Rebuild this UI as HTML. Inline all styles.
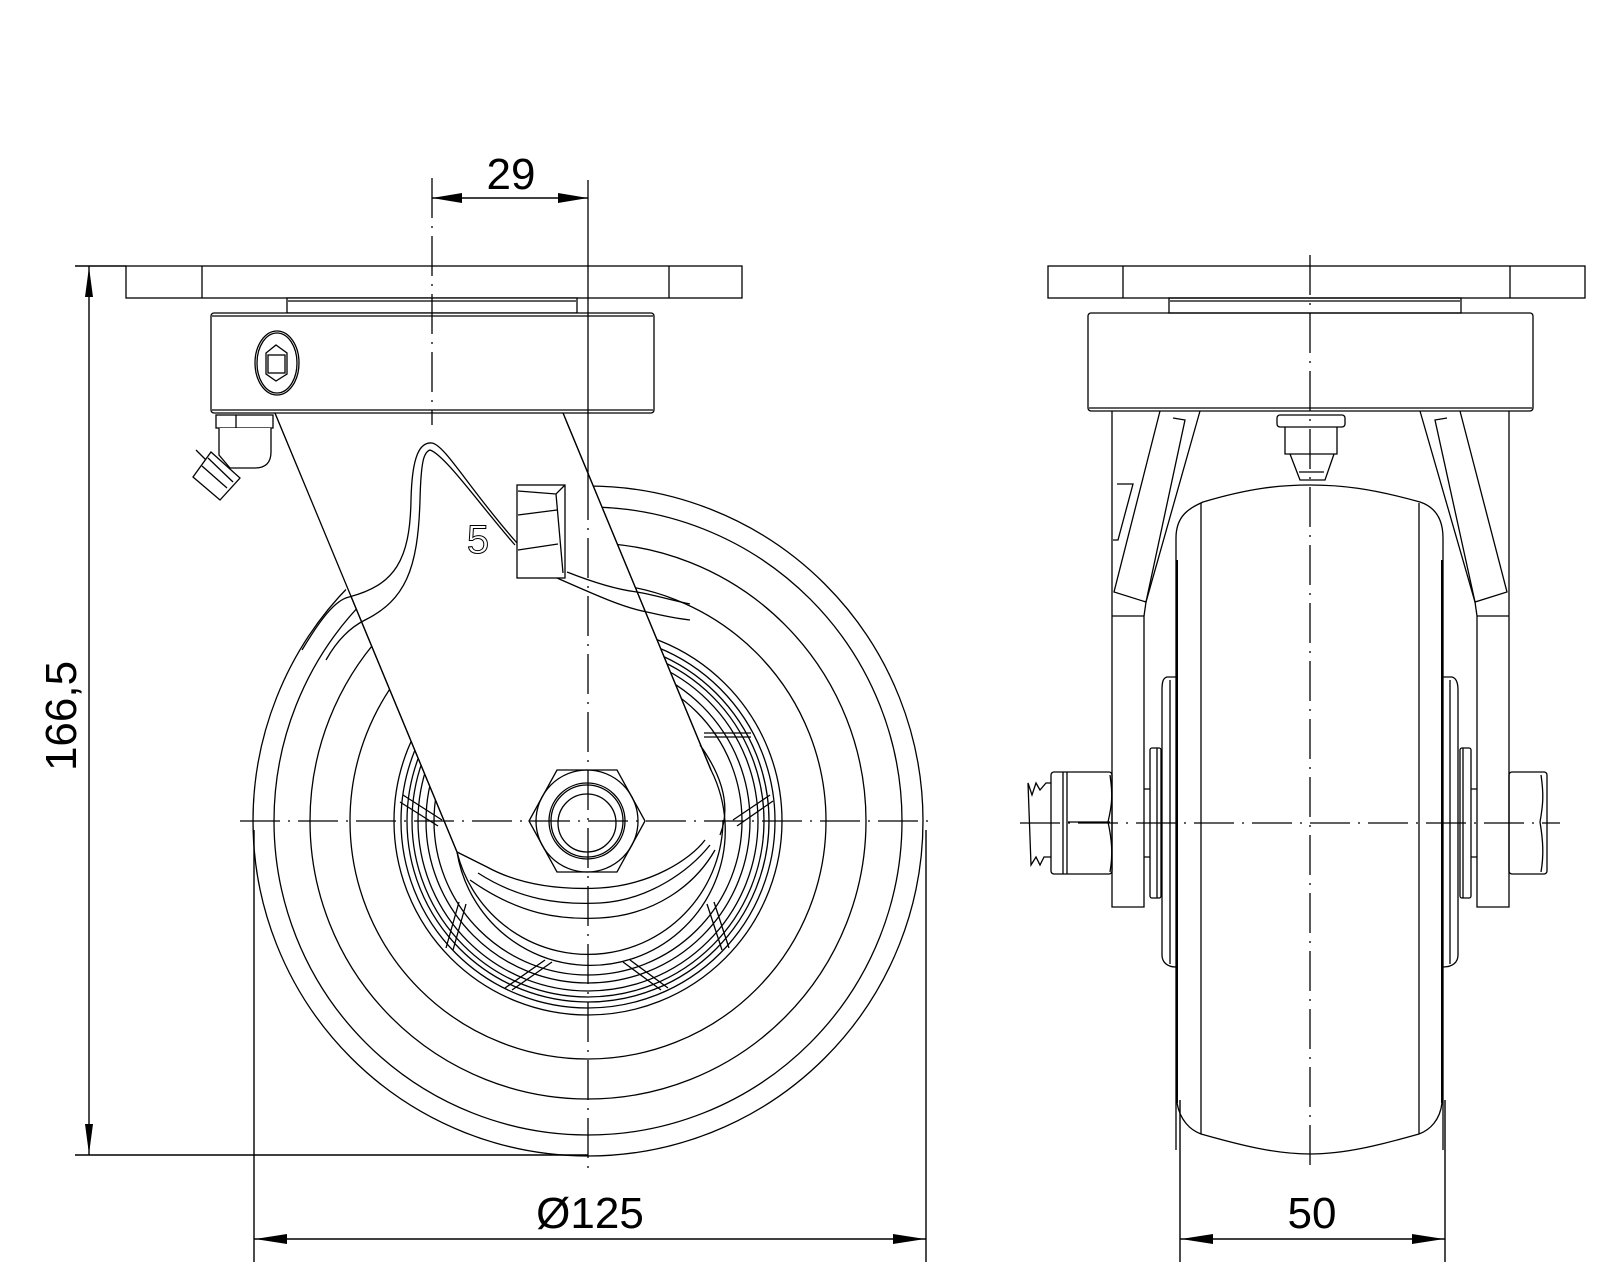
<!DOCTYPE html>
<html><head><meta charset="utf-8"><style>
html,body{margin:0;padding:0;background:#fff;}
svg{display:block;}
text{font-family:"Liberation Sans",sans-serif;fill:#000;}
</style></head><body>
<svg width="1600" height="1280" viewBox="0 0 1600 1280" xmlns="http://www.w3.org/2000/svg">
<g fill="none" stroke="#000" stroke-width="1.3">
<circle cx="588" cy="821" r="335"/>
<circle cx="588" cy="821" r="314"/>
<circle cx="588" cy="821" r="278"/>
<circle cx="588" cy="821" r="238"/>
<circle cx="588" cy="821" r="194"/>
<circle cx="588" cy="821" r="187"/>
<circle cx="588" cy="821" r="181"/>
<circle cx="588" cy="821" r="176"/>
<circle cx="588" cy="821" r="170"/>
<circle cx="588" cy="821" r="162"/>
<circle cx="588" cy="821" r="154"/>
<path d="M403,795 L442,820 M400,802 L438,826 M733,820 L770,795 M737,826 L773,801 M466,904 L453,950 M459,902 L446,948 M707,904 L722,950 M714,902 L729,948 M545,960 L505,988 M552,962 L512,990 M630,960 L668,988 M623,962 L661,990"/>
<path d="M704,733 L751,733 M704,737 L751,737"/>
<path fill="#fff" d="M275,413 L457,852 A135,135 0 1 0 711,770 L563,413 Z"/>
<path d="M723,820 A135,135 0 0 1 457,852"/>
<path d="M457,852 L487,867 C520,885 560,890 600,888 C650,885 690,860 705,840"/>
<path d="M478,873 C520,900 560,905 600,903 C650,900 690,870 710,845"/>
<path d="M470,880 C520,915 560,920 600,918 C655,915 695,885 715,850"/>
<path d="M700,745 C725,780 730,810 720,835"/>
<path fill="#fff" d="M349,597 C395,585 410,560 411,500 C412,455 420,442 432,443 C445,445 470,490 517,540 L517,578 C540,578 565,575 567,572 L620,594 L563,413 L275,413 Z" stroke="none"/>
<path d="M302,650 C320,620 335,600 349,597 C395,585 410,560 411,500 C412,455 420,442 432,443 C445,445 470,490 517,543"/>
<path d="M326,660 C340,635 355,625 365,620 C405,600 418,570 420,500 C421,460 424,452 430,450 C445,455 480,505 515,545"/>
<path d="M275,413 L457,852 M563,413 L711,770"/>
<path d="M567,572 C600,585 620,590 637,592 C655,595 670,600 690,604"/>
<path d="M557,578 C600,597 625,608 647,612 C660,615 672,618 690,620"/>
<rect x="517" y="485" width="48" height="93"/>
<path d="M518,491 L556,494 L565,485 M556,494 L563,573 M518,515 L557,510 M518,550 L558,544"/>
<text x="478" y="553" font-size="40" stroke="#000" stroke-width="1" text-anchor="middle" style="fill:none">5</text>
<polygon fill="#fff" points="529,821 557,770 617,770 645,821 617,872 557,872"/>
<circle cx="587" cy="821" r="51"/>
<circle cx="587" cy="821" r="38"/>
<circle cx="587" cy="821" r="36"/>
<circle cx="587" cy="823" r="29"/>
<rect x="126" y="266" width="616" height="32" fill="#fff"/>
<path d="M202,266 L202,298 M669,266 L669,298"/>
<rect x="287" y="298" width="290" height="15" fill="#fff"/>
<line x1="288" y1="301" x2="576" y2="301"/>
<rect x="211" y="313" width="443" height="100" rx="3" fill="#fff"/>
<line x1="212" y1="316" x2="653" y2="316"/>
<line x1="212" y1="410" x2="653" y2="410"/>
<ellipse cx="277" cy="363" rx="22" ry="32"/>
<ellipse cx="277" cy="363" rx="20" ry="30"/>
<polygon points="276,345 287,353 287,374 276,381 266,374 266,353"/>
<rect x="268" y="355" width="17" height="18"/>
<rect x="216" y="415" width="57" height="13" fill="#fff"/>
<line x1="236" y1="415" x2="236" y2="428"/>
<path d="M219,428 L219,455 L230,468 L255,468 C266,468 271,462 271,452 L271,428" fill="#fff"/>
<polygon points="193,477 211,452 240,478 220,500" fill="#fff"/>
<path d="M202,466 L227,488 M208,458 L233,482 M196,450 L206,460"/>
<path d="M588,180 L588,480"/>
<path d="M588,480 L588,1170" stroke-dasharray="40,8,2,8"/>
<path d="M432,178 L432,425" stroke-dasharray="40,8,2,8"/>
<path d="M240,821 L935,821" stroke-dasharray="40,8,2,8"/>
<g stroke-width="1.4">
<line x1="432" y1="198" x2="588" y2="198"/>
<line x1="75" y1="266" x2="126" y2="266"/>
<line x1="75" y1="1155" x2="588" y2="1155"/>
<line x1="89" y1="266" x2="89" y2="1155"/>
<line x1="254" y1="830" x2="254" y2="1262"/>
<line x1="926" y1="830" x2="926" y2="1262"/>
<line x1="254" y1="1239" x2="926" y2="1239"/>
</g>
</g>
<g fill="#000">
<polygon points="432,198 462,193 462,203"/>
<polygon points="588,198 558,193 558,203"/>
<polygon points="89,267 85,297 93,297"/>
<polygon points="89,1154 85,1124 93,1124"/>
<polygon points="255,1239 287,1234 287,1244"/>
<polygon points="925,1239 893,1234 893,1244"/>
<polygon points="1181,1239 1213,1234 1213,1244"/>
<polygon points="1444,1239 1412,1234 1412,1244"/>
</g>
<text x="511" y="189" font-size="44" text-anchor="middle">29</text>
<text x="590" y="1228" font-size="44" text-anchor="middle">Ø125</text>
<text x="1312" y="1228" font-size="44" text-anchor="middle">50</text>
<text transform="translate(76,716) rotate(-90)" font-size="44" text-anchor="middle">166,5</text>
<g fill="none" stroke="#000" stroke-width="1.3">
<rect x="1048" y="266" width="537" height="32"/>
<path d="M1123,266 L1123,298 M1510,266 L1510,298"/>
<rect x="1169" y="298" width="292" height="15"/>
<line x1="1170" y1="301" x2="1460" y2="301"/>
<rect x="1088" y="313" width="445" height="98" rx="3"/>
<line x1="1089" y1="408" x2="1532" y2="408"/>
<path d="M1112,411 L1112,907 L1144,907 L1144,616 L1112,616"/>
<path d="M1477,616 L1477,907 L1509,907 L1509,411"/>
<path d="M1477,616 L1509,616"/>
<path d="M1160,411 L1114,592 L1146,602 L1200,411"/>
<path d="M1173,418 L1185,420 L1146,602"/>
<path d="M1146,602 L1144,616"/>
<path d="M1460,411 L1507,592 L1475,602 L1420,411"/>
<path d="M1447,418 L1435,420 L1475,602"/>
<path d="M1475,602 L1477,616"/>
<path d="M1117,484 L1133,484 L1118,540 L1113,540"/>
<rect x="1277" y="415" width="68" height="12" rx="3"/>
<path d="M1285,427 L1285,454 L1337,454 L1337,427"/>
<path d="M1290,454 L1300,480 L1325,480 L1334,454 M1299,472 L1324,472"/>
<path d="M1176,1150 L1176,538 C1176,515 1190,508 1203,502 C1250,488 1280,485 1310,485 C1340,485 1370,488 1420,502 C1432,506 1443,515 1443,538 L1443,1150"/>
<path d="M1177,1103 C1180,1120 1190,1130 1201,1134 C1240,1145 1275,1154 1310,1154 C1345,1154 1380,1145 1419,1134 C1430,1130 1440,1120 1442,1103"/>
<line x1="1201" y1="503" x2="1201" y2="1134"/>
<line x1="1419" y1="503" x2="1419" y2="1134"/>
<line x1="1177" y1="560" x2="1177" y2="1103" stroke-width="2"/>
<line x1="1442" y1="560" x2="1442" y2="1103" stroke-width="2"/>
<path d="M1176,677 L1167,677 C1163,678 1162,682 1162,690 L1162,955 C1162,962 1167,967 1176,967"/>
<path d="M1170,680 L1170,964"/>
<path d="M1443,677 L1452,677 C1456,678 1458,682 1458,690 L1458,955 C1458,962 1453,967 1443,967"/>
<path d="M1450,680 L1450,964"/>
<rect x="1150" y="748" width="11" height="150" rx="2"/>
<line x1="1157" y1="748" x2="1157" y2="898"/>
<rect x="1460" y="748" width="11" height="150" rx="2"/>
<line x1="1463" y1="748" x2="1463" y2="898"/>
<path d="M1144,789 L1150,789 M1144,857 L1150,857 M1471,789 L1477,789 M1471,857 L1477,857"/>
<rect x="1051" y="772" width="61" height="102" rx="3"/>
<path d="M1063,772 L1063,874 M1067,772 L1067,874 M1068,822 L1110,822"/>
<path d="M1110,775 C1113,795 1112,805 1108,822 C1112,840 1113,855 1110,872"/>
<path d="M1051,783 L1046,783 L1040,790 L1036,783 L1032,795 L1028,783 L1031,865 L1036,857 L1040,865 L1044,857 L1051,857"/>
<rect x="1509" y="772" width="38" height="102" rx="3"/>
<path d="M1541,775 C1544,795 1543,805 1540,822 C1543,840 1544,855 1541,872"/>
<path d="M1310,255 L1310,1165" stroke-dasharray="40,8,2,8"/>
<path d="M1020,823 L1560,823" stroke-dasharray="40,8,2,8"/>
<g stroke-width="1.4">
<line x1="1180" y1="1100" x2="1180" y2="1262"/>
<line x1="1445" y1="1100" x2="1445" y2="1262"/>
<line x1="1180" y1="1239" x2="1445" y2="1239"/>
</g>
</g>
</svg>
</body></html>
